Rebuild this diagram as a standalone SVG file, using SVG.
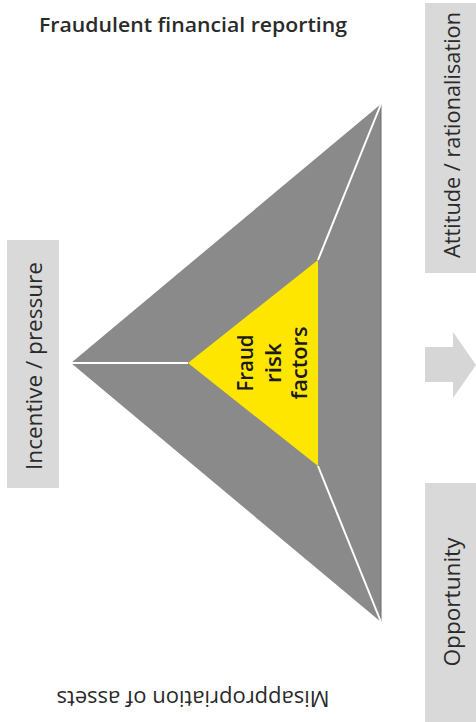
<svg xmlns="http://www.w3.org/2000/svg" width="476" height="722" viewBox="0 0 476 722">
<style>
.lbl{font-family:"Open Sans","Noto Sans","DejaVu Sans",sans-serif;font-size:21px;fill:#2a2a2a;text-anchor:middle}
.core{font-weight:600;fill:#1a1a1a}
.box{fill:#d9d9d9}
.div{stroke:#ffffff;stroke-width:2;fill:none}
</style>
<rect width="476" height="722" fill="#ffffff"/>
<g id="title">
<text class="lbl" x="193" y="32" textLength="308" lengthAdjust="spacingAndGlyphs" style="font-weight:600;font-size:20px">Fraudulent financial reporting</text>
</g>
<g id="triangle">
<polygon points="71,363 381,104 381,622" fill="#8a8a8a"/>
<line x1="381" y1="104" x2="381" y2="622" stroke="#6a6a6a" stroke-width="1"/>
</g>
<g id="connectors">
<line class="div" x1="71" y1="363" x2="188" y2="363"/>
<line class="div" x1="318" y1="260" x2="381" y2="104"/>
<line class="div" x1="318" y1="466" x2="381" y2="622"/>
</g>
<g id="fraud-risk-factors">
<polygon points="188,363 318,260 318,466" fill="#ffe600"/>
<text class="lbl core" transform="translate(253,363) rotate(-90)" textLength="57" lengthAdjust="spacingAndGlyphs">Fraud</text>
<text class="lbl core" transform="translate(281,363) rotate(-90)" textLength="40" lengthAdjust="spacingAndGlyphs">risk</text>
<text class="lbl core" transform="translate(307,363) rotate(-90)" textLength="73" lengthAdjust="spacingAndGlyphs">factors</text>
</g>
<g id="incentive">
<rect class="box" x="7" y="240" width="52" height="248"/>
<text class="lbl" transform="translate(42,366) rotate(-90)" textLength="208" lengthAdjust="spacingAndGlyphs">Incentive / pressure</text>
</g>
<g id="attitude">
<rect class="box" x="425" y="3" width="51" height="270"/>
<text class="lbl" transform="translate(460,135) rotate(-90)" textLength="246" lengthAdjust="spacingAndGlyphs">Attitude / rationalisation</text>
</g>
<g id="opportunity">
<rect class="box" x="425" y="483" width="51" height="239"/>
<text class="lbl" transform="translate(460,602) rotate(-90)" textLength="129" lengthAdjust="spacingAndGlyphs">Opportunity</text>
</g>
<g id="arrow">
<polygon points="425,347 453,347 453,332 476,365 453,398 453,382 425,382" fill="#d6d6d6"/>
</g>
<g id="misappropriation">
<text class="lbl" transform="translate(193,691) rotate(180)" textLength="273" lengthAdjust="spacingAndGlyphs">Misappropriation of assets</text>
</g>
</svg>
